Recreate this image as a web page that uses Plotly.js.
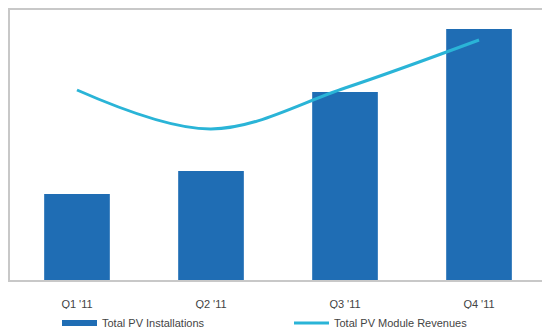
<!DOCTYPE html>
<html>
<head>
<meta charset="utf-8">
<script src="https://cdn.plot.ly/plotly-3.0.1.min.js"></script>
<style>html,body{margin:0;padding:0;background:#fff;}#chart{width:542px;height:331px;}</style>
</head>
<body>
<div id="chart"></div>
<script>
const categories = ["Q1 '11", "Q2 '11", "Q3 '11", "Q4 '11"];
const installations = [86, 109, 188, 251];
const moduleRevenues = [190, 151, 192, 240];
const seriesNames = ["Total PV Installations", "Total PV Module Revenues"];

const barColor = '#1f6db4';
const lineColor = '#2ab4d7';

const traces = [
  {
    type: 'bar', x: categories, y: installations, name: seriesNames[0],
    marker: {color: barColor}, showlegend: false, legendgroup: 'a', hoverinfo: 'x+y'
  },
  {
    type: 'scatter', mode: 'lines', x: [null], y: [null], name: seriesNames[0],
    line: {color: barColor, width: 6}, legendgroup: 'a', showlegend: true
  },
  {
    type: 'scatter', mode: 'lines', x: categories, y: moduleRevenues, name: seriesNames[1],
    line: {color: lineColor, width: 3, shape: 'spline', smoothing: 1}, showlegend: true
  }
];

const layout = {
  width: 542, height: 331,
  margin: {l: 10, r: 0, t: 10, b: 51},
  paper_bgcolor: '#ffffff', plot_bgcolor: '#ffffff',
  font: {family: 'Liberation Sans, Arial, sans-serif', size: 11, color: '#444'},
  bargap: 0.51,
  xaxis: {
    type: 'category', range: [-0.5, 3.47], showgrid: false, zeroline: false,
    showline: true, mirror: true, linecolor: '#c8c8c8', linewidth: 2,
    ticks: '', ticklabelstandoff: 13, tickfont: {size: 11, color: '#444'}
  },
  yaxis: {
    range: [0, 270], showgrid: false, zeroline: false, showticklabels: false,
    showline: true, linecolor: '#c8c8c8', linewidth: 2, ticks: ''
  },
  showlegend: true,
  legend: {
    orientation: 'h', xref: 'container', yref: 'container',
    x: 57 / 542, xanchor: 'left', y: 8 / 331, yanchor: 'middle',
    itemwidth: 35, entrywidth: 182, entrywidthmode: 'pixels',
    font: {size: 11, color: '#444'}, traceorder: 'normal'
  }
};

Plotly.newPlot('chart', traces, layout, {displayModeBar: false, staticPlot: true});
</script>
</body>
</html>
